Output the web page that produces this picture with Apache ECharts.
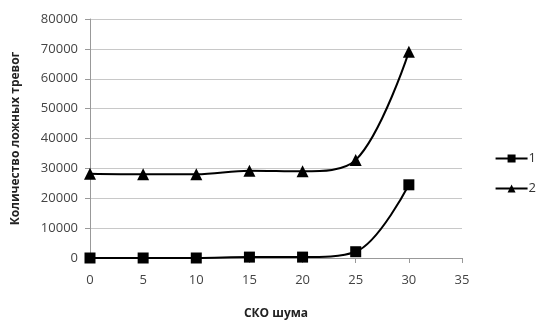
<!DOCTYPE html>
<html>
<head>
<meta charset="utf-8">
<script src="https://cdn.jsdelivr.net/npm/echarts@6/dist/echarts.min.js"></script>
<style>
html,body{margin:0;padding:0;background:#fff;}
#chart{width:539px;height:321px;}
</style>
</head>
<body>
<div id="chart"></div>
<script>
// Noise standard deviation (x) and false alarm counts for two detectors
const noiseSko = [0, 5, 10, 15, 20, 25, 30];
const series1 = [0, 0, 0, 300, 300, 2100, 24500];
const series2 = [28200, 28000, 28000, 29200, 29000, 32800, 69000];
const seriesNames = ['1', '2'];

const font = '"Open Sans", "DejaVu Sans", sans-serif';
const chart = echarts.init(document.getElementById('chart'));

chart.setOption({
  animation: false,
  backgroundColor: '#fff',
  grid: { left: 90, right: 77, top: 19, bottom: 63, outerBoundsMode: 'none', containLabel: false },
  legend: {
    orient: 'vertical',
    right: -2,
    top: 147,
    itemWidth: 32,
    itemHeight: 10,
    itemGap: 17,
    textStyle: { fontFamily: font, fontSize: 13, color: '#333', padding: [0, 0, 0, -4] },
    data: seriesNames
  },
  xAxis: {
    type: 'value',
    min: 0, max: 35, interval: 5,
    name: 'СКО шума',
    nameLocation: 'middle',
    nameGap: 50,
    nameTextStyle: { fontFamily: font, fontSize: 12, fontWeight: 'bold', color: '#222' },
    axisLine: { lineStyle: { color: '#999' } },
    axisTick: { show: true, length: 5, lineStyle: { color: '#999' } },
    axisLabel: { fontFamily: font, fontSize: 13, color: '#444', margin: 16 },
    splitLine: { show: false }
  },
  yAxis: {
    type: 'value',
    min: 0, max: 80000, interval: 10000,
    name: 'Количество ложных тревог',
    nameLocation: 'middle',
    nameGap: 68,
    nameTextStyle: { fontFamily: font, fontSize: 12, fontWeight: 'bold', color: '#222' },
    axisLine: { show: true, lineStyle: { color: '#999' } },
    axisTick: { show: true, length: 5, lineStyle: { color: '#999' } },
    axisLabel: { fontFamily: font, fontSize: 13, color: '#444', margin: 12, formatter: v => String(v) },
    splitLine: { lineStyle: { color: '#c8c8c8', width: 1 } }
  },
  series: [
    {
      name: seriesNames[0],
      type: 'line',
      smooth: 0.35,
      data: noiseSko.map((x, i) => [x, series1[i]]),
      symbol: 'rect',
      symbolSize: 11,
      lineStyle: { color: '#000', width: 2 },
      itemStyle: { color: '#000' }
    },
    {
      name: seriesNames[1],
      type: 'line',
      smooth: 0.35,
      data: noiseSko.map((x, i) => [x, series2[i]]),
      symbol: 'triangle',
      symbolSize: 12,
      lineStyle: { color: '#000', width: 2 },
      itemStyle: { color: '#000' }
    }
  ]
});
</script>
</body>
</html>
